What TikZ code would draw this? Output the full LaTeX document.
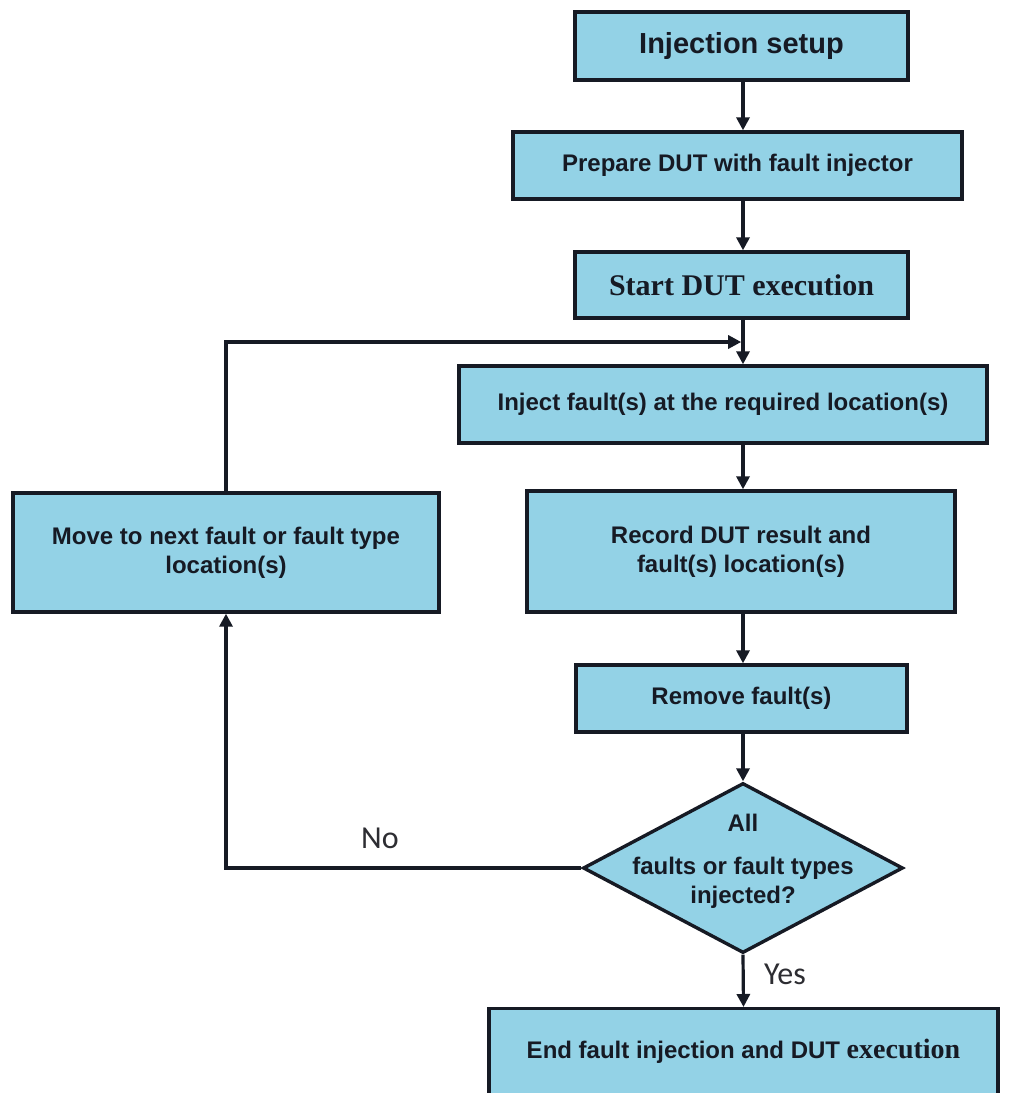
\documentclass[tikz,border=0pt]{standalone}
\usepackage{fontspec}
\setmainfont{Liberation Sans}
\newfontfamily\serifbold{Liberation Serif}
\newfontfamily\labelfont{Carlito}
\usetikzlibrary{shapes.geometric,arrows.meta}
\definecolor{boxfill}{RGB}{147,210,230}
\definecolor{ink}{RGB}{22,26,36}
\definecolor{labelink}{RGB}{45,45,50}
\begin{document}
\begin{tikzpicture}[x=1pt,y=-1pt,
  box/.style={draw=ink, fill=boxfill, line width=3.4pt, inner sep=0pt,
    align=center, text=ink, font=\bfseries\fontsize{24}{29}\selectfont},
  flow/.style={draw=ink, line width=3.2pt, -{Triangle[length=13pt,width=13pt]}},
  answer/.style={text=labelink, font=\labelfont\fontsize{32}{34}\selectfont, inner sep=0pt},
  ]
\useasboundingbox[fill=white] (0,0) rectangle (1026,1093);

% process steps
\node[box, minimum width=333pt, minimum height=68pt,
  font=\bfseries\fontsize{29}{34}\selectfont] (setup) at (741.5,46) {Injection setup};
\node[box, minimum width=449pt, minimum height=67pt] (prep) at (737.5,165.5)
  {Prepare DUT with fault injector};
\node[box, minimum width=333pt, minimum height=66pt,
  font=\serifbold\bfseries\fontsize{30}{34}\selectfont] (start) at (741.5,285)
  {Start DUT execution};
\node[box, minimum width=528pt, minimum height=77pt] (inject) at (723,404.5)
  {Inject fault(s) at the required location(s)};
\node[box, minimum width=428pt, minimum height=121pt] (record) at (741,551.5)
  {Record DUT result and\\fault(s) location(s)};
\node[box, minimum width=426pt, minimum height=119pt] (move) at (226,552.5)
  {Move to next fault or fault type\\location(s)};
\node[box, minimum width=331pt, minimum height=67pt] (remove) at (741.5,698.5)
  {Remove fault(s)};

% decision
\node[box, diamond, minimum width=320pt, minimum height=170pt] (check) at (743,868) {};
\node[align=center, text=ink, inner sep=0pt, font=\bfseries\fontsize{24}{29}\selectfont]
  (checktext) at (743,861) {All\\[14pt]faults or fault types\\injected?};

% final step (runs past the lower edge)
\node[box, anchor=north, minimum width=509pt, text height=50pt, text depth=80pt]
  (finish) at (743.5,1007)
  {End fault injection and DUT {\serifbold\bfseries\fontsize{28}{30}\selectfont execution}};

% connectors
\coordinate (merge) at (743,342);
\draw[flow] (setup.south -| merge) -- (prep.north -| merge);
\draw[flow] (prep.south -| merge) -- (start.north -| merge);
\draw[flow, -] (start.south -| merge) -- (merge);
\draw[flow] (merge) -- (inject.north -| merge);
\draw[flow, shorten >=1.8pt] (move.north) |- (merge);
\draw[flow] (inject.south -| merge) -- (record.north -| merge);
\draw[flow] (record.south -| merge) -- (remove.north -| merge);
\draw[flow] (remove.south -| merge) -- (check.north);
\draw[flow] (check.west) -| (move.south);
\draw[flow] (check.south) -- (finish.north);

% branch labels
\node[answer] (no) at (380,838) {No};
\node[answer] (yes) at (785,974) {Yes};
\end{tikzpicture}
\end{document}
